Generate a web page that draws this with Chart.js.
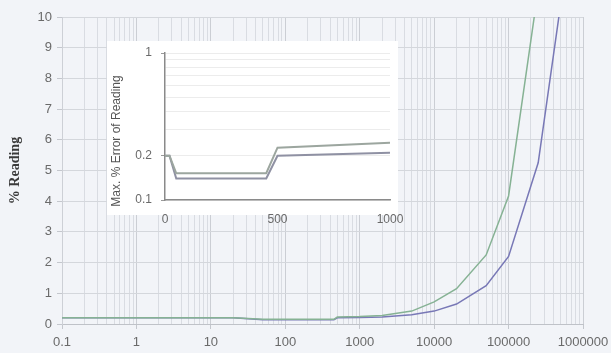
<!DOCTYPE html>
<html><head><meta charset="utf-8">
<script src="https://cdn.jsdelivr.net/npm/chart.js@4.4.1/dist/chart.umd.min.js"></script>
<style>
html,body{margin:0;padding:0;background:#f2f4f8;}
#wrap{position:relative;width:611px;height:353px;overflow:hidden;}
#main{position:absolute;left:0;top:0;}
#insetBox{position:absolute;left:107px;top:41px;width:291px;height:174px;background:#ffffff;overflow:visible;}
#inset{position:absolute;left:-1px;top:-1px;}
</style></head><body>
<div id="wrap">
<canvas id="main" width="611" height="353"></canvas>
<div id="insetBox"><canvas id="inset" width="300" height="188"></canvas></div>
</div>
<script>
// ---- data ----
const readings   = [0.1, 0.2, 0.5, 1, 2, 5, 10, 20, 50, 100, 200, 450, 500, 1000, 2000, 5000, 10000, 20000, 50000, 100000, 250000, 500000];
const errorGreen = [0.2, 0.2, 0.2, 0.2, 0.2, 0.2, 0.2, 0.2, 0.152, 0.152, 0.152, 0.152, 0.227, 0.245, 0.28, 0.42, 0.72, 1.15, 2.25, 4.17, 10.9, 22];
const errorBlue  = [0.2, 0.2, 0.2, 0.2, 0.2, 0.2, 0.2, 0.2, 0.14, 0.14, 0.14, 0.14, 0.2, 0.21, 0.23, 0.3, 0.42, 0.65, 1.25, 2.2, 5.25, 10.4];
const xTickValues = [0.1, 1, 10, 100, 1000, 10000, 100000, 1000000];
const xTickLabels = ['0.1', '1', '10', '100', '1000', '10000', '100000', '1000000'];
const yTickLabels = ['0', '1', '2', '3', '4', '5', '6', '7', '8', '9', '10'];
const insetXTicks = [0, 500, 1000];
const insetXLabels = ['0', '500', '1000'];
const insetYTicks = [0.1, 0.2, 1];
const insetYLabels = ['0.1', '0.2', '1'];
const insetMaxX = 1000;

const FONT = "'Liberation Sans', Arial, sans-serif";
const pts = (ys) => readings.map((x, i) => ({x: x, y: ys[i]}));
const insetPts = (ys) => readings.map((x, i) => ({x: x, y: ys[i]})).filter(p => p.x <= insetMaxX);

function logGridTicks(majors) {
  const t = [];
  majors.forEach((m, i) => {
    t.push({value: m});
    if (i < majors.length - 1) for (let k = 2; k < 10; k++) t.push({value: k * m});
  });
  return t;
}
const isMajor = (v, arr) => arr.some(a => Math.abs(a - v) < 1e-9 * Math.max(1, a));
const noPad = s => { s.paddingLeft = 0; s.paddingRight = 0; s.paddingTop = 0; s.paddingBottom = 0; };

new Chart(document.getElementById('main'), {
  type: 'line',
  data: {datasets: [
    {data: pts(errorGreen), borderColor: '#86b294', borderWidth: 1.5, pointRadius: 0, tension: 0},
    {data: pts(errorBlue), borderColor: '#7878b6', borderWidth: 1.5, pointRadius: 0, tension: 0}
  ]},
  options: {
    responsive: false, animation: false,
    layout: {padding: {left: 0, right: 28, top: 17, bottom: 0}},
    plugins: {legend: {display: false}, tooltip: {enabled: false}},
    scales: {
      x: {
        type: 'logarithmic', min: 0.1, max: 1000000,
        afterBuildTicks: s => { s.ticks = logGridTicks(xTickValues); },
        afterFit: s => { s.height = 29; noPad(s); },
        ticks: {autoSkip: false, maxRotation: 0, padding: 6, color: '#6a6a6a', font: {family: FONT, size: 13},
          callback: (v) => { const i = xTickValues.findIndex(a => Math.abs(a - v) < 1e-9 * Math.max(1, a)); return i >= 0 ? xTickLabels[i] : ''; }},
        grid: {color: c => (c.tick && isMajor(c.tick.value, xTickValues)) ? '#cbced4' : '#d9dce2',
               tickColor: c => (c.tick && isMajor(c.tick.value, xTickValues)) ? '#c4c7cd' : 'rgba(0,0,0,0)',
               tickLength: 5},
        border: {color: '#bfc2c8'}
      },
      y: {
        min: 0, max: 10,
        afterBuildTicks: s => { s.ticks = yTickLabels.map(l => ({value: Number(l)})); },
        afterFit: s => { s.width = 62; noPad(s); },
        ticks: {autoSkip: false, padding: 5, color: '#6a6a6a', font: {family: FONT, size: 13},
          callback: (v, i) => yTickLabels[i]},
        grid: {color: '#d4d7dc', tickColor: '#c4c7cd', tickLength: 5},
        border: {color: '#cdd0d6'},
        title: {display: true, text: '% Reading', color: '#3a3a3a', padding: {top: 7, bottom: 0},
          font: {family: "'Liberation Serif', 'Times New Roman', serif", size: 14, weight: 'bold'}}
      }
    }
  }
});

const insetTitle = {
  id: 'insetTitle',
  afterDraw(chart) {
    const ctx = chart.ctx;
    ctx.save();
    ctx.translate(11, 101);
    ctx.rotate(-Math.PI / 2);
    ctx.font = '12px ' + FONT;
    ctx.fillStyle = '#555555';
    ctx.textAlign = 'center';
    ctx.textBaseline = 'middle';
    ctx.fillText('Max. % Error of Reading', 0, 0);
    ctx.restore();
  }
};

new Chart(document.getElementById('inset'), {
  type: 'line',
  data: {datasets: [
    {data: insetPts(errorGreen), borderColor: '#9ca69f', borderWidth: 2, pointRadius: 0, tension: 0},
    {data: insetPts(errorBlue), borderColor: '#8f91a3', borderWidth: 2, pointRadius: 0, tension: 0}
  ]},
  plugins: [insetTitle],
  options: {
    responsive: false, animation: false,
    layout: {padding: {left: 0, right: 16, top: 13, bottom: 0}},
    plugins: {legend: {display: false}, tooltip: {enabled: false}},
    scales: {
      x: {
        type: 'linear', min: 0, max: 1000,
        afterBuildTicks: s => { s.ticks = insetXTicks.map(v => ({value: v})); },
        afterFit: s => { s.height = 28; noPad(s); },
        ticks: {autoSkip: false, maxRotation: 0, padding: 8, color: '#6a6a6a', font: {family: FONT, size: 12},
          callback: (v, i) => insetXLabels[i]},
        grid: {display: true, color: 'rgba(0,0,0,0)', tickColor: 'rgba(0,0,0,0)', tickLength: 4},
        border: {color: '#8a8a8a', width: 1.5}
      },
      y: {
        type: 'logarithmic', min: 0.1, max: 1,
        afterBuildTicks: s => { s.ticks = logGridTicks([0.1, 1]); },
        afterFit: s => { s.width = 59; noPad(s); },
        ticks: {autoSkip: false, padding: 9, color: '#6a6a6a', font: {family: FONT, size: 12},
          callback: (v) => { const i = insetYTicks.findIndex(a => Math.abs(a - v) < 1e-9); return i >= 0 ? insetYLabels[i] : ''; }},
        grid: {color: '#ececec',
               tickColor: c => (c.tick && isMajor(c.tick.value, insetYTicks)) ? '#999999' : 'rgba(0,0,0,0)',
               tickLength: 4},
        border: {color: '#8a8a8a', width: 1.5}
      }
    }
  }
});
</script>
</body></html>
